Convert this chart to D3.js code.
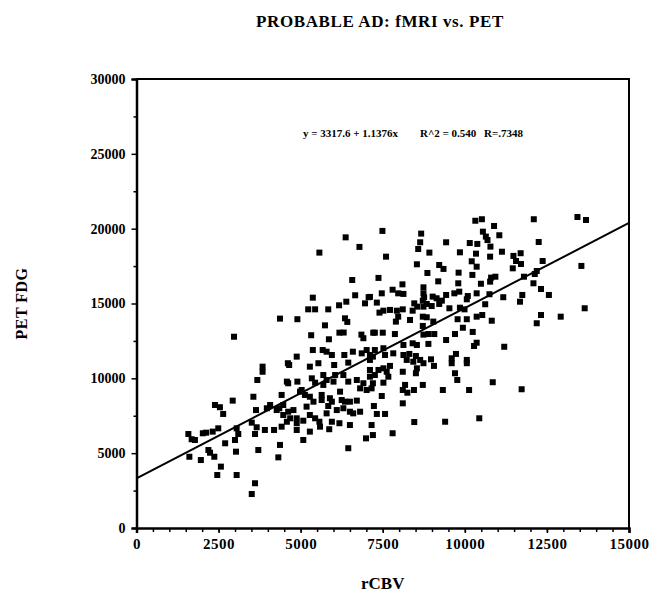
<!DOCTYPE html>
<html>
<head>
<meta charset="utf-8">
<script src="https://cdn.jsdelivr.net/npm/d3@7"></script>
<style>
  body { margin: 0; background: #fff; }
  text { font-family: 'Liberation Serif', 'Times New Roman', serif; font-weight: bold; fill: #000; }
</style>
</head>
<body>
<div id="chart"></div>
<script>
// rCBV (x) and PET FDG (y)
const rcbv = [6370,6790,5570,6570,5370,6660,7070,6390,6170,6960,5230,5440,5840,4370,4900,6350,6420,5740,6180,6850,7260,6310,
  10320,10520,12100,13430,13690,7490,8670,10890,10550,10640,11050,8640,9430,10150,10380,10690,8580,8920,10780,12250,7600,9850,
  10340,11130,10770,11480,11700,11560,10210,10360,12370,8540,9220,9350,11710,11460,13550,8860,9810,10230,10800,10930,11800,12130,
  12190,7370,8100,9190,9800,10490,10770,12090,12320,12560,7800,7970,8130,7470,7110,7320,8740,8740,8760,9020,9140,9430,9680,9830,
  10090,10360,10060,10750,11170,11750,11680,10620,8460,8550,8410,8720,8840,9300,9220,7520,7720,7930,8110,7400,8740,8990,9530,9850,
  9990,7900,7970,8330,8720,8840,9780,10060,10360,10530,10820,12320,12190,12920,13650,8720,9040,9940,7210,7500,7870,8740,8890,9070,
  9700,10240,9430,10360,10280,11200,8130,8410,8540,8890,7520,7260,7110,7200,7820,7570,8130,8310,8510,8640,8740,8430,8230,8970,9600,
  9730,9600,10060,10060,9060,7720,7520,7370,7620,8110,8540,8510,7110,7260,7110,7670,7520,9700,9770,10850,8720,8180,8110,8250,8450,
  9330,10130,11730,7200,7160,7470,8110,7230,7320,7570,7160,8460,9400,10440,7800,2970,5320,5860,4880,5370,5670,5950,5790,6330,6590,
  6860,7010,4610,4650,5280,5540,6020,6450,7110,3840,3840,3680,4580,4620,4900,5340,5440,5690,5790,5690,6000,6050,6300,6450,6710,6910,
  6810,7010,5030,4980,5130,5280,5390,5640,5640,5890,5950,6250,6350,6500,6710,6200,5840,6100,6300,6500,6600,6810,4420,4470,4350,4270,
  4470,4620,4780,4580,4420,4190,3910,4070,3970,3560,3640,3510,3660,4880,4880,5080,5280,5440,5570,5590,5280,5870,6180,6500,4880,5080,
  2390,2540,2640,2930,2020,2120,2320,2490,3050,1580,1680,1780,3100,3610,2700,3030,2190,2240,1610,1960,2370,3710,4370,4320,2570,2460,
  3050,3610,3510,6450,6990,7200,3000,6910,5180,5790,5950,4680]
const petFdg = [19420,18780,18400,16570,15390,15550,15420,15120,14880,15010,14610,14610,14610,13990,13950,14010,13770,13540,13050,12920,13050,13060,
  20530,20630,20630,20780,20580,19850,19670,20180,19800,19470,19560,19090,19090,19040,18980,19240,18640,18400,18800,19110,18130,18420,
  18330,18460,18130,18180,18360,17840,17820,17460,17840,17620,17570,17310,17640,17350,17510,17040,17060,16910,16730,16790,16790,16970,
  17170,16710,16280,16480,16350,16320,16460,16350,15970,15570,15920,15680,15640,15680,15440,15060,16080,15680,15420,15460,15350,15570,15680,15790,
  15500,15680,15280,15620,15420,15570,15120,14950,15010,14790,14520,15190,14970,15190,14970,14520,14570,14520,14610,14390,14790,14830,14680,14720,
  14610,13790,14120,13900,14120,14080,13950,13950,14120,14230,13850,14230,13680,14120,14680,13500,13790,13380,13050,13050,12960,12920,12960,12960,
  12960,13100,12560,12380,12160,12110,12230,12340,12230,12300,12010,11890,11560,11450,11670,11560,11560,11630,11490,11230,11010,11110,11230,11270,11340,
  11630,11010,11230,11010,10830,10830,10670,10560,10440,10440,10670,10340,10560,10220,10110,10110,9710,10340,9890,9740,9560,9560,9220,9040,9220,
  9220,9220,9270,9670,9330,8820,8330,8150,7620,7620,6880,7080,7100,7330,6330,12780,12880,12610,11450,11890,11890,11560,11780,11560,11780,
  11670,11890,11010,10890,10780,11010,10890,11050,11230,10780,10440,9890,9780,9670,9780,10000,9710,10220,9890,9560,9780,10220,10220,9780,9890,9670,
  9330,9220,9220,9110,8890,8770,8440,8890,8550,8670,8440,8550,8440,8440,8510,9110,8150,7880,8000,7770,7660,7770,8890,8220,8000,7880,
  7550,7770,7880,7100,6770,6550,6550,8220,8000,8770,7880,7040,6730,7330,7000,7170,7550,7330,7100,6770,6440,6600,7000,6880,6550,5880,
  8220,8070,7620,8510,6330,6370,6440,6660,6660,6280,5930,5880,6280,6280,5660,5100,5210,5030,4760,4540,4760,5210,5550,4720,4100,3540,
  3540,2990,2270,5330,5990,6210,5880,12680,8110,7660,7100,7330]

// regression line ends, from the printed fit
const fitX = [0, 15000]
const fitY = [3317.6, 20381.6]

const xMajor = [0, 2500, 5000, 7500, 10000, 12500, 15000]
const xMinor = d3.range(0, 15001, 500)
const yMajor = [0, 5000, 10000, 15000, 20000, 25000, 30000]
const yMinor = [2500, 7500, 12500, 17500, 22500, 27500]

const margin = { top: 79, left: 136.5, right: 20, bottom: 65 }
const width = 649 - margin.left - margin.right
const height = 593 - margin.top - margin.bottom

const root = d3
  .select('#chart')
  .append('svg')
  .attr('width', 649)
  .attr('height', 593)

const svg = root
  .append('g')
  .attr('transform', 'translate(' + margin.left + ',' + margin.top + ')')

const xPositionScale = d3.scaleLinear().domain([0, 15000]).range([0, width])
const yPositionScale = d3.scaleLinear().domain([0, 30000]).range([height, 0])

// frame top + right
svg
  .append('path')
  .attr('d', 'M' + xPositionScale(0) + ',' + yPositionScale(30000) +
    'H' + xPositionScale(15000) + 'V' + yPositionScale(0))
  .attr('fill', 'none')
  .attr('stroke', '#000')
  .attr('stroke-width', 2)

// minor ticks
svg.append('g')
  .attr('class', 'minor')
  .call(d3.axisLeft(yPositionScale).tickValues(yMinor).tickSize(3).tickFormat(''))
svg.append('g')
  .attr('class', 'minor')
  .attr('transform', 'translate(0,' + height + ')')
  .call(d3.axisBottom(xPositionScale).tickValues(xMinor).tickSize(4).tickFormat(''))
svg.selectAll('.minor .domain').remove()

const yAxis = d3.axisLeft(yPositionScale).tickValues(yMajor).tickSize(5).tickPadding(6).tickFormat(d3.format('d'))
svg.append('g').attr('class', 'axis y-axis').call(yAxis)

const xAxis = d3.axisBottom(xPositionScale).tickValues(xMajor).tickSize(5).tickPadding(5).tickFormat(d3.format('d'))
svg.append('g')
  .attr('class', 'axis x-axis')
  .attr('transform', 'translate(0,' + height + ')')
  .call(xAxis)

svg.selectAll('.domain').attr('stroke-width', 2.5)
svg.selectAll('.tick line').attr('stroke-width', 1.5)
svg.selectAll('.y-axis text').attr('font-size', 14)
svg.selectAll('.x-axis text').attr('font-size', 15).attr('letter-spacing', 0.5)
svg.selectAll('.axis text').attr('font-family', null)

// points
const points = rcbv.map((d, i) => ({ x: d, y: petFdg[i] }))
svg
  .selectAll('.pt')
  .data(points)
  .enter()
  .append('rect')
  .attr('class', 'pt')
  .attr('x', d => xPositionScale(d.x) - 3)
  .attr('y', d => yPositionScale(d.y) - 3)
  .attr('width', 6)
  .attr('height', 6)
  .attr('fill', '#000')

const line = d3
  .line()
  .x(d => xPositionScale(d[0]))
  .y(d => yPositionScale(d[1]))

svg
  .append('path')
  .datum(fitX.map((d, i) => [d, fitY[i]]))
  .attr('d', line)
  .attr('fill', 'none')
  .attr('stroke', '#000')
  .attr('stroke-width', 2)

// texts
root.append('text')
  .attr('x', 380)
  .attr('y', 27)
  .attr('text-anchor', 'middle')
  .attr('font-size', 17)
  .attr('letter-spacing', 0.6)
  .text('PROBABLE AD: fMRI vs. PET')

const eq = [['y = 3317.6 + 1.1376x', 303], ['R^2 = 0.540', 420], ['R=.7348', 484]]
root.selectAll('.eq')
  .data(eq)
  .enter()
  .append('text')
  .attr('class', 'eq')
  .attr('x', d => d[1])
  .attr('y', 137)
  .attr('font-size', 11)
  .style('white-space', 'pre')
  .text(d => d[0])

root.append('text')
  .attr('transform', 'translate(27,' + (margin.top + height / 2) + ') rotate(-90)')
  .attr('text-anchor', 'middle')
  .attr('font-size', 16)
  .attr('letter-spacing', 0.5)
  .text('PET FDG')

root.append('text')
  .attr('x', margin.left + width / 2)
  .attr('y', 589)
  .attr('text-anchor', 'middle')
  .attr('font-size', 17)
  .text('rCBV')
</script>
</body>
</html>
